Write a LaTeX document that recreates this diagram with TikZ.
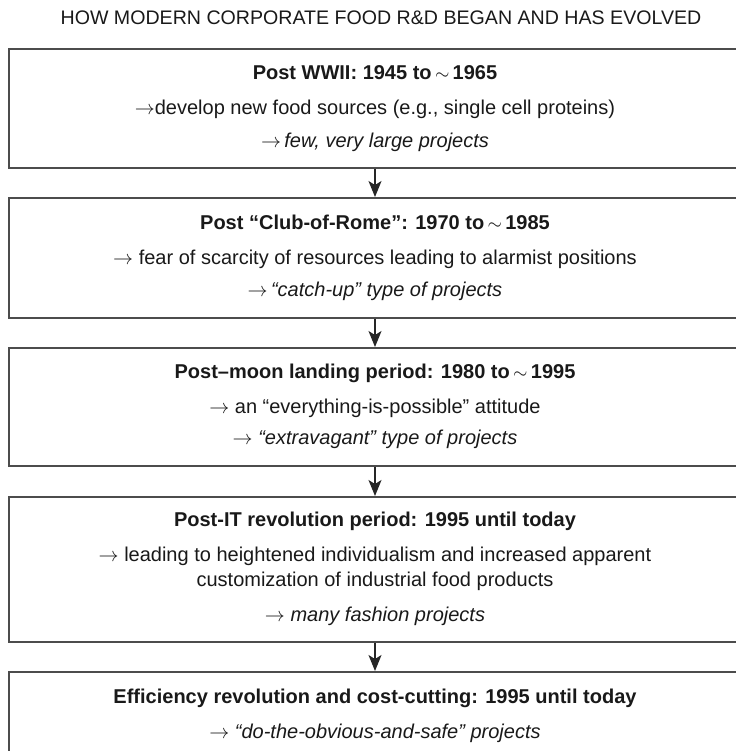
\documentclass[tikz,border=0pt]{standalone}
\usepackage{fontspec}
\setmainfont{Liberation Sans}
\usepackage{tikz}
\usetikzlibrary{arrows.meta}

\tikzset{
  period/.style={draw=black!70, line width=0.8pt, minimum width=366pt, anchor=north,
    align=center, text=black!90, inner sep=0pt, font=\fontsize{10}{12.5}\selectfont},
  flow/.style={draw=black!85, line width=0.7pt, -{Stealth[length=8pt,width=6.5pt,inset=2pt]}}
}
\newcommand{\arr}{$\rightarrow$}
\newcommand{\about}{\,{\small$\sim$}\,}

\begin{document}
\begin{tikzpicture}[x=0.5pt,y=-0.5pt]
          \useasboundingbox (0,0) rectangle (735,751);
          \node[text=black!90, font=\fontsize{9.8}{11}\selectfont] (title) at (381,18) {HOW MODERN CORPORATE FOOD R\&D BEGAN AND HAS EVOLVED};
          \node[period, minimum height=59.5pt] (wwii) at (375,48)
            {\textbf{Post WWII: 1945 to\about1965}\\[5pt]
             \arr develop new food sources (e.g., single cell proteins)\\[4pt]
             \arr\,\textit{few, very large projects}};
          \node[period, minimum height=60pt] (rome) at (375,197)
            {\textbf{Post “Club-of-Rome”: 1970 to\about1985}\\[5pt]
             \arr\ fear of scarcity of resources leading to alarmist positions\\[3.5pt]
             \arr\,\textit{“catch-up” type of projects}};
          \node[period, minimum height=59pt] (moon) at (375,347)
            {\textbf{Post–moon landing period: 1980 to\about1995}\\[5pt]
             \arr\ an “everything-is-possible” attitude\\[3pt]
             \arr\ \textit{“extravagant” type of projects}};
          \node[period, minimum height=72.5pt] (it) at (375,496)
            {\textbf{Post-IT revolution period: 1995 until today}\\[5pt]
             \arr\ leading to heightened individualism and increased apparent\\
             customization of industrial food products\\[5pt]
             \arr\ \textit{many fashion projects}};
          \node[period, minimum height=44.5pt] (cost) at (375,671)
            {\textbf{Efficiency revolution and cost-cutting: 1995 until today}\\[5pt]
             \arr\ \textit{“do-the-obvious-and-safe” projects}};
          \draw[flow] (wwii) -- (rome);
          \draw[flow] (rome) -- (moon);
          \draw[flow] (moon) -- (it);
          \draw[flow] (it) -- (cost);
        \end{tikzpicture}
\end{document}
